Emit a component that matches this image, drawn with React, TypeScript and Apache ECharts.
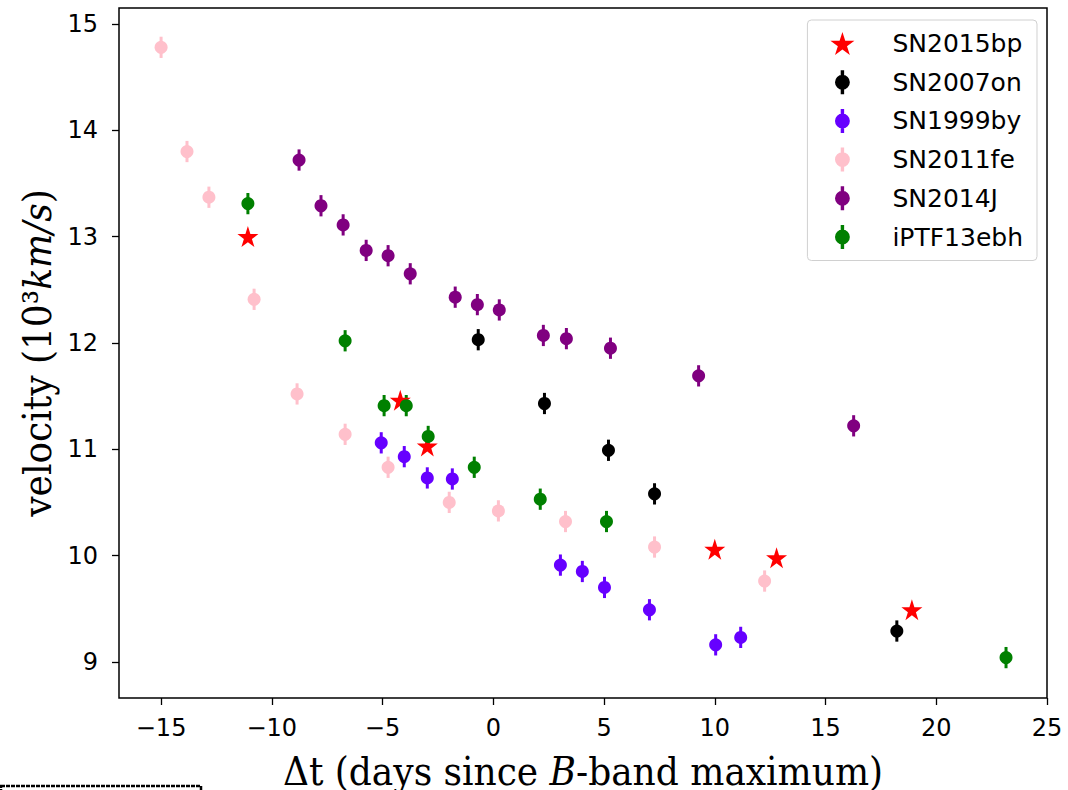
import React, { useEffect, useRef } from "react";
import * as echarts from "echarts";

// ---- data ----
const SN2015bp_x = [-11.08, -4.2, -2.98, 10.0, 12.79, 18.9];
const SN2015bp_y = [13.0, 11.46, 11.03, 10.06, 9.98, 9.49];

const SN2007on_x = [-0.68, 2.31, 5.2, 7.28, 18.22];
const SN2007on_y = [12.03, 11.43, 10.99, 10.58, 9.29];
const SN2007on_err = [0.1, 0.1, 0.1, 0.1, 0.1];

const SN1999by_x = [-5.06, -4.02, -2.98, -1.85, 3.03, 4.02, 5.02, 7.05, 10.04, 11.17];
const SN1999by_y = [11.06, 10.93, 10.73, 10.72, 9.91, 9.85, 9.7, 9.49, 9.16, 9.23];
const SN1999by_err = [0.1, 0.1, 0.1, 0.1, 0.1, 0.1, 0.1, 0.1, 0.1, 0.1];

const SN2011fe_x = [-15.0, -13.83, -12.84, -10.8, -8.86, -6.69, -4.75, -1.99, 0.23, 3.26, 7.28, 12.25];
const SN2011fe_y = [14.78, 13.8, 13.37, 12.41, 11.52, 11.14, 10.83, 10.5, 10.42, 10.32, 10.08, 9.76];
const SN2011fe_err = [0.1, 0.1, 0.1, 0.1, 0.1, 0.1, 0.1, 0.1, 0.1, 0.1, 0.1, 0.1];

const SN2014J_x = [-8.77, -7.78, -6.78, -5.74, -4.75, -3.75, -1.72, -0.72, 0.27, 2.26, 3.3, 5.29, 9.27, 16.27];
const SN2014J_y = [13.72, 13.29, 13.11, 12.87, 12.82, 12.65, 12.43, 12.36, 12.31, 12.07, 12.04, 11.95, 11.69, 11.22];
const SN2014J_err = [0.1, 0.1, 0.1, 0.1, 0.1, 0.1, 0.1, 0.1, 0.1, 0.1, 0.1, 0.1, 0.1, 0.1];

const iPTF13ebh_x = [-11.08, -6.69, -4.93, -3.93, -2.94, -0.86, 2.12, 5.11, 23.15];
const iPTF13ebh_y = [13.31, 12.02, 11.41, 11.41, 11.12, 10.83, 10.53, 10.32, 9.04];
const iPTF13ebh_err = [0.1, 0.1, 0.1, 0.1, 0.1, 0.1, 0.1, 0.1, 0.1];

const X_TICKS = [-15, -10, -5, 0, 5, 10, 15, 20, 25];
const Y_TICKS = [9, 10, 11, 12, 13, 14, 15];

const STAR =
  "path://M0,-100L22.45,-30.9L95.1,-30.9L36.3,11.8L58.78,80.9L0,38.2L-58.78,80.9L-36.3,11.8L-95.1,-30.9L-22.45,-30.9Z";
const ERRDOT =
  "path://M-1.5,-10.5h3v21h-3Z M-6.5,0a6.5,6.5 0 1,1 13,0a6.5,6.5 0 1,1 -13,0Z";

const SANS = "'DejaVu Sans', sans-serif";
const SERIF = "'DejaVu Serif Condensed', 'DejaVu Serif', serif";

type ErrSet = { name: string; color: string; x: number[]; y: number[]; err: number[] };

const ERR_SETS: ErrSet[] = [
  { name: "SN2007on", color: "#000000", x: SN2007on_x, y: SN2007on_y, err: SN2007on_err },
  { name: "SN1999by", color: "#6600ff", x: SN1999by_x, y: SN1999by_y, err: SN1999by_err },
  { name: "SN2011fe", color: "#ffc0cb", x: SN2011fe_x, y: SN2011fe_y, err: SN2011fe_err },
  { name: "SN2014J", color: "#800080", x: SN2014J_x, y: SN2014J_y, err: SN2014J_err },
  { name: "iPTF13ebh", color: "#008000", x: iPTF13ebh_x, y: iPTF13ebh_y, err: iPTF13ebh_err },
];

function buildOption() {
  const series: any[] = [];
  series.push({
    type: "scatter",
    name: "SN2015bp",
    symbol: STAR,
    symbolSize: 21,
    itemStyle: { color: "#ff0000", opacity: 1 },
    data: SN2015bp_x.map((x, i) => [x, SN2015bp_y[i]]),
    z: 2,
  });
  ERR_SETS.forEach((s) => {
    series.push({
      type: "custom",
      name: s.name + "_err",
      silent: true,
      itemStyle: { color: s.color },
      encode: { x: 0, y: 1 },
      data: s.x.map((x, i) => [x, s.y[i], s.err[i]]),
      renderItem: (params: any, api: any) => {
        const x = api.value(0);
        const y = api.value(1);
        const e = api.value(2);
        const p1 = api.coord([x, y - e]);
        const p2 = api.coord([x, y + e]);
        return {
          type: "line",
          shape: { x1: p1[0], y1: p1[1], x2: p2[0], y2: p2[1] },
          style: { stroke: s.color, lineWidth: 3 },
        };
      },
      z: 2,
    });
    series.push({
      type: "scatter",
      name: s.name,
      symbol: "circle",
      symbolSize: 13,
      itemStyle: { color: s.color, opacity: 1 },
      data: s.x.map((x, i) => [x, s.y[i]]),
      z: 2,
    });
  });

  return {
    animation: false,
    backgroundColor: "#ffffff",
    grid: {
      left: 119,
      top: 8,
      width: 928,
      height: 690,
      show: true,
      borderColor: "#000",
      borderWidth: 1.5,
      backgroundColor: "transparent",
      containLabel: false,
      outerBoundsMode: "none",
    },
    xAxis: {
      type: "value",
      min: -16.9,
      max: 25,
      splitLine: { show: false },
      axisLine: { show: false, onZero: false },
      axisTick: { show: true, inside: false, length: 7, customValues: X_TICKS, lineStyle: { color: "#000", width: 1.3 } },
      axisLabel: {
        customValues: X_TICKS,
        margin: 18,
        color: "#000",
        fontFamily: SANS,
        fontSize: 24,
        formatter: (v: number) => String(v).replace("-", "\u2212"),
      },
      name: "{a|\u0394t (days since }{i|B}{a|-band maximum)}",
      nameLocation: "middle",
      nameGap: 53,
      nameTextStyle: {
        rich: {
          a: { fontFamily: SERIF, fontSize: 40, color: "#000" },
          i: { fontFamily: SERIF, fontSize: 40, fontStyle: "italic", color: "#000" },
        },
      },
    },
    yAxis: {
      type: "value",
      min: 8.66,
      max: 15.15,
      splitLine: { show: false },
      axisLine: { show: false, onZero: false },
      axisTick: { show: true, inside: false, length: 7, customValues: Y_TICKS, lineStyle: { color: "#000", width: 1.3 } },
      axisLabel: {
        customValues: Y_TICKS,
        margin: 21,
        color: "#000",
        fontFamily: SANS,
        fontSize: 24,
      },
      name: "{a|velocity (10\u00b3}{i|km/s}{a|)}",
      nameLocation: "middle",
      nameGap: 62,
      nameRotate: 90,
      nameTextStyle: {
        rich: {
          a: { fontFamily: SERIF, fontSize: 40, color: "#000" },
          i: { fontFamily: SERIF, fontSize: 40, fontStyle: "italic", color: "#000" },
        },
      },
    },
    legend: {
      orient: "vertical",
      right: 31,
      top: 20,
      padding: [11, 14, 11, 23],
      itemWidth: 24,
      itemHeight: 24,
      itemGap: 13.7,
      symbolKeepAspect: true,
      backgroundColor: "rgba(255,255,255,0.8)",
      borderColor: "#d0d0d0",
      borderWidth: 1,
      borderRadius: 4,
      textStyle: { fontFamily: SANS, fontSize: 25, color: "#000", padding: [0, 0, 0, 33] },
      data: [
        { name: "SN2015bp", icon: STAR },
        ...ERR_SETS.map((s) => ({ name: s.name, icon: ERRDOT })),
      ],
    },
    graphic: [
      {
        type: "rect",
        shape: { x: 1, y: 786, width: 200, height: 6 },
        style: { fill: "#fff", stroke: "#000", lineWidth: 2.5, lineDash: [4, 1] },
        z: 10,
      },
    ],
    series,
  };
}

export default function App() {
  const ref = useRef<HTMLDivElement>(null);
  useEffect(() => {
    if (!ref.current) return;
    const chart = echarts.init(ref.current, undefined, { renderer: "svg" });
    chart.setOption(buildOption() as any);
    return () => chart.dispose();
  }, []);
  return (
    <div
      ref={ref}
      style={{ position: "fixed", left: 0, top: 0, width: 1068, height: 790, background: "#fff" }}
    />
  );
}
